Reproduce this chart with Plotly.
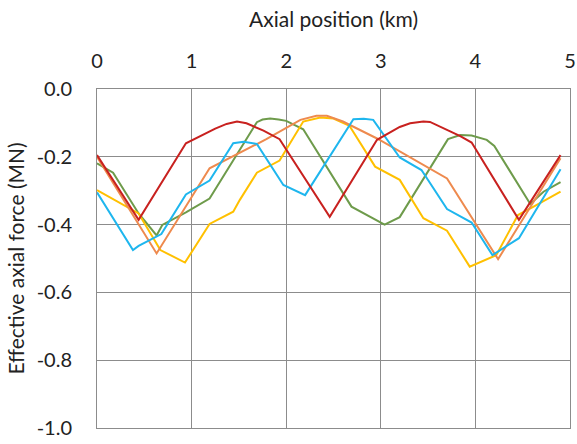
import plotly.graph_objects as go

x_ticks = [0, 1, 2, 3, 4, 5]
y_ticks = [0.0, -0.2, -0.4, -0.6, -0.8, -1.0]
y_ticktext = ["0.0", "-0.2", "-0.4", "-0.6", "-0.8", "-1.0"]

green_x = [0, 0.17, 0.44, 0.63, 0.69, 0.94, 1.19, 1.69, 1.75, 1.83, 1.92, 2.0, 2.18, 2.69, 3.04, 3.20, 3.71, 3.84, 3.96, 4.12, 4.20, 4.58, 4.72, 4.90]
green_y = [-0.219, -0.247, -0.367, -0.432, -0.401, -0.364, -0.323, -0.098, -0.090, -0.087, -0.090, -0.094, -0.119, -0.347, -0.400, -0.378, -0.148, -0.136, -0.137, -0.150, -0.168, -0.339, -0.303, -0.275]

yellow_x = [0, 0.44, 0.67, 0.93, 1.19, 1.44, 1.51, 1.69, 1.93, 2.18, 2.36, 2.50, 2.67, 2.94, 3.20, 3.45, 3.70, 3.94, 4.22, 4.45, 4.63, 4.90]
yellow_y = [-0.298, -0.367, -0.475, -0.512, -0.398, -0.362, -0.327, -0.247, -0.211, -0.096, -0.084, -0.087, -0.109, -0.229, -0.268, -0.381, -0.418, -0.524, -0.490, -0.372, -0.345, -0.303]

orange_x = [0, 0.63, 1.19, 1.79, 2.15, 2.32, 2.43, 2.60, 2.96, 3.70, 4.24, 4.90]
orange_y = [-0.200, -0.485, -0.234, -0.148, -0.091, -0.079, -0.079, -0.096, -0.146, -0.264, -0.502, -0.204]

cyan_x = [0, 0.38, 0.44, 0.68, 0.94, 1.19, 1.44, 1.55, 1.69, 1.97, 2.20, 2.71, 2.82, 2.92, 3.20, 3.43, 3.70, 3.96, 4.18, 4.46, 4.90]
cyan_y = [-0.305, -0.475, -0.463, -0.428, -0.311, -0.270, -0.160, -0.156, -0.162, -0.283, -0.313, -0.089, -0.088, -0.091, -0.202, -0.239, -0.354, -0.394, -0.490, -0.440, -0.237]

red_x = [0, 0.44, 0.94, 1.09, 1.25, 1.37, 1.48, 1.58, 1.76, 1.93, 2.46, 2.96, 3.10, 3.20, 3.31, 3.45, 3.52, 3.59, 3.70, 3.84, 3.96, 4.46, 4.90]
red_y = [-0.195, -0.386, -0.160, -0.139, -0.117, -0.103, -0.096, -0.101, -0.123, -0.148, -0.377, -0.150, -0.128, -0.112, -0.101, -0.096, -0.097, -0.106, -0.122, -0.139, -0.158, -0.386, -0.195]

series = [
    ("green", green_x, green_y, "#6E9B4B"),
    ("yellow", yellow_x, yellow_y, "#FFC000"),
    ("orange", orange_x, orange_y, "#EE8A4E"),
    ("cyan", cyan_x, cyan_y, "#1EB6EE"),
    ("red", red_x, red_y, "#C8211F"),
]

fig = go.Figure()
for name, xs, ys, col in series:
    fig.add_trace(go.Scatter(x=xs, y=ys, mode="lines", name=name,
                             line=dict(color=col, width=2), showlegend=False))

font = dict(family="Lato, Open Sans, sans-serif", size=20, color="#222222")
fig.update_layout(
    width=577, height=444,
    margin=dict(l=97, r=7, t=89, b=16),
    paper_bgcolor="white", plot_bgcolor="white",
    font=font,
    showlegend=False,
    xaxis=dict(
        side="top", range=[0, 5], tickvals=x_ticks,
        showgrid=True, gridcolor="#8C8C8C", gridwidth=1,
        showline=True, linecolor="#8C8C8C", mirror=True,
        zeroline=False, ticks="", ticklabelstandoff=12,
        ticklabeloverflow="allow",
        title=dict(text="Axial position (km)", standoff=14, font=dict(size=21)),
        automargin=False,
    ),
    yaxis=dict(
        range=[-1.0, 0.0], tickvals=y_ticks, ticktext=y_ticktext,
        showgrid=True, gridcolor="#8C8C8C", gridwidth=1,
        showline=True, linecolor="#8C8C8C", mirror=True,
        zeroline=False, ticks="", ticklabelstandoff=20,
        ticklabeloverflow="allow",
        title=dict(text="Effective axial force (MN)", standoff=6, font=dict(size=21)),
        automargin=False,
    ),
)

fig.write_html("out.html")
